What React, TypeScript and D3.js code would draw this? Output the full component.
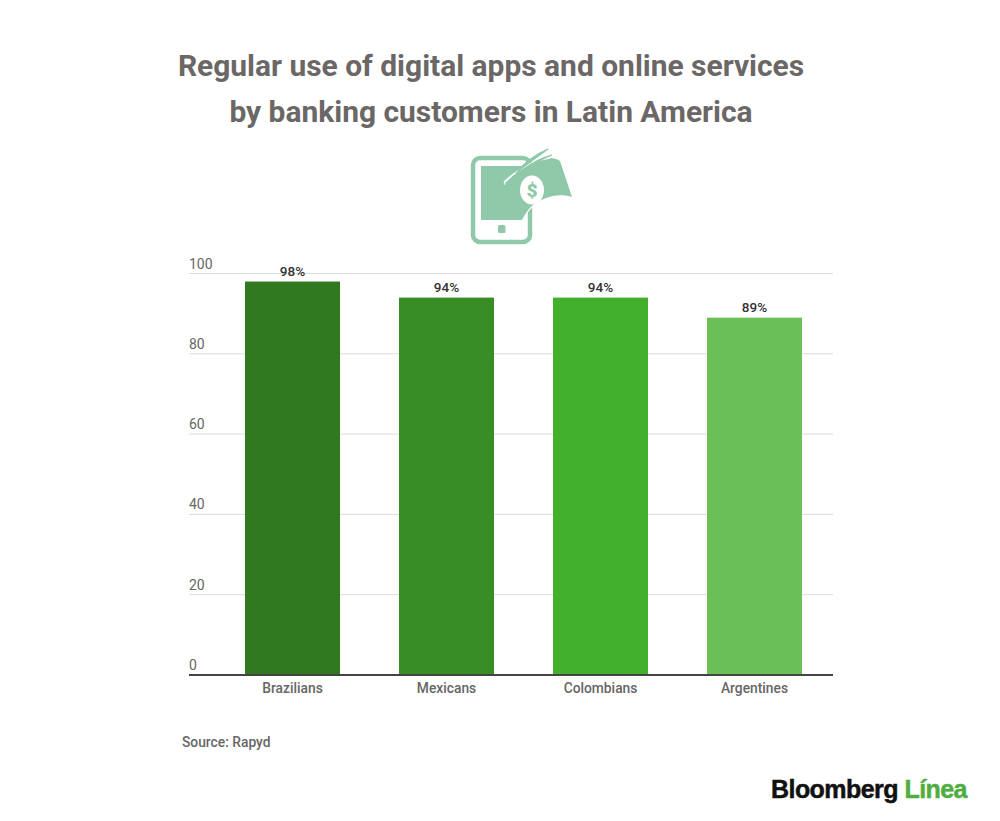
import React, { useRef, useEffect } from 'react';
import * as d3 from 'd3';

const categories = ['Brazilians', 'Mexicans', 'Colombians', 'Argentines'];
const values = [98, 94, 94, 89];
const barColors = ['#30791f', '#388d25', '#43b02d', '#6abf57'];
const yTicks = [0, 20, 40, 60, 80, 100];
const titleLines = [
  'Regular use of digital apps and online services',
  'by banking customers in Latin America',
];

const width = 1000;
const height = 821;
const font = 'Roboto, sans-serif';
const iconColor = '#8fc9aa';

const App: React.FC = () => {
  const ref = useRef<SVGSVGElement | null>(null);

  useEffect(() => {
    if (!ref.current) return;
    const svg = d3.select(ref.current);
    svg.selectAll('*').remove();

    const x = d3.scaleBand<string>()
      .domain(categories)
      .range([215.5, 831.5])
      .paddingInner(0.383)
      .paddingOuter(0.1915);
    const y = d3.scaleLinear().domain([0, 100]).range([675, 273.5]);

    // title
    svg.append('g').selectAll('text')
      .data(titleLines)
      .enter()
      .append('text')
      .attr('x', 491)
      .attr('y', (_, i) => 76 + i * 46)
      .attr('text-anchor', 'middle')
      .attr('font-family', font)
      .attr('font-weight', 700)
      .attr('font-size', 29.95)
      .attr('fill', '#6b6766')
      .text(d => d);

    // phone + banknote icon
    const icon = svg.append('g').attr('transform', 'translate(450,140)');
    icon.append('rect')
      .attr('x', 23).attr('y', 18).attr('width', 57).attr('height', 84).attr('rx', 7)
      .attr('fill', '#fff').attr('stroke', iconColor).attr('stroke-width', 4.5);
    icon.append('rect')
      .attr('x', 31).attr('y', 26).attr('width', 42).attr('height', 54)
      .attr('fill', iconColor);
    icon.append('rect')
      .attr('x', 48).attr('y', 85).attr('width', 7.5).attr('height', 8).attr('rx', 1.5)
      .attr('fill', iconColor);
    // white halo keeps the note separate from the phone frame
    icon.append('path')
      .attr('d', 'M55,42 C66,32 80,22 100,18 Q106,18 110,21 L122,57 C108,52 92,58 83,65 Q77,70 72,80 L60,60 Z')
      .attr('fill', iconColor).attr('stroke', '#fff').attr('stroke-width', 2.5)
      .attr('paint-order', 'stroke');
    icon.append('path')
      .attr('d', 'M60,42 L72,80 L60,80 L45,50 Z')
      .attr('fill', iconColor);
    icon.append('path')
      .attr('d', 'M55,42 C68,29 84,20 100,18')
      .attr('fill', 'none').attr('stroke', '#fff').attr('stroke-width', 1.6);
    icon.append('path')
      .attr('d', 'M66,33 C74,23 86,14 98,9 C90,15 80,22 66,33 Z M73,30 C80,24 90,18 102,15 C92,19 84,24 73,30 Z')
      .attr('fill', iconColor).attr('stroke', iconColor).attr('stroke-width', 1.2);
    icon.append('ellipse')
      .attr('cx', 82).attr('cy', 50).attr('rx', 12).attr('ry', 14.5)
      .attr('fill', '#fff');
    icon.append('text')
      .attr('x', 82).attr('y', 56.5)
      .attr('text-anchor', 'middle')
      .attr('font-family', font).attr('font-weight', 900).attr('font-size', 19)
      .attr('fill', iconColor)
      .text('$');

    // gridlines and y labels
    svg.append('g').selectAll('line')
      .data(yTicks.filter(d => d > 0))
      .enter()
      .append('line')
      .attr('x1', 189).attr('x2', 833)
      .attr('y1', d => y(d)).attr('y2', d => y(d))
      .attr('stroke', '#dcdcdc').attr('stroke-width', 1);

    svg.append('g').selectAll('text')
      .data(yTicks)
      .enter()
      .append('text')
      .attr('x', 189)
      .attr('y', d => y(d) - 5)
      .attr('font-family', font).attr('font-size', 14)
      .attr('fill', '#666')
      .text(d => d);

    // bars
    svg.append('g').selectAll('rect')
      .data(values)
      .enter()
      .append('rect')
      .attr('x', (_, i) => x(categories[i]) as number)
      .attr('y', d => y(d))
      .attr('width', x.bandwidth())
      .attr('height', d => y(0) - y(d))
      .attr('fill', (_, i) => barColors[i]);

    // value labels
    svg.append('g').selectAll('text')
      .data(values)
      .enter()
      .append('text')
      .attr('x', (_, i) => (x(categories[i]) as number) + x.bandwidth() / 2)
      .attr('y', d => y(d) - 5.5)
      .attr('text-anchor', 'middle')
      .attr('font-family', font).attr('font-weight', 500).attr('font-size', 13.5)
      .attr('fill', '#333')
      .text(d => `${d}%`);

    // baseline
    svg.append('line')
      .attr('x1', 189).attr('x2', 833)
      .attr('y1', y(0)).attr('y2', y(0))
      .attr('stroke', '#444').attr('stroke-width', 1.8);

    // category labels
    svg.append('g').selectAll('text')
      .data(categories)
      .enter()
      .append('text')
      .attr('x', d => (x(d) as number) + x.bandwidth() / 2)
      .attr('y', 693)
      .attr('text-anchor', 'middle')
      .attr('font-family', font).attr('font-weight', 500).attr('font-size', 13.8)
      .attr('fill', '#666')
      .text(d => d);

    svg.append('text')
      .attr('x', 182).attr('y', 747)
      .attr('font-family', font).attr('font-weight', 500).attr('font-size', 13.8)
      .attr('fill', '#666')
      .text('Source: Rapyd');

    // logo
    const logo = svg.append('text')
      .attr('x', 771).attr('y', 798)
      .attr('font-family', '"Liberation Sans", sans-serif')
      .attr('font-weight', 700).attr('font-size', 25)
      .attr('letter-spacing', -0.55)
      .attr('stroke-width', 0.5);
    logo.append('tspan').attr('fill', '#111').attr('stroke', '#111').text('Bloomberg ');
    logo.append('tspan').attr('fill', '#4fae3f').attr('stroke', '#4fae3f').text('Línea');
  }, []);

  return (
    <svg
      ref={ref}
      width={width}
      height={height}
      style={{ position: 'absolute', left: 0, top: 0, background: '#fff' }}
    />
  );
};

export default App;
